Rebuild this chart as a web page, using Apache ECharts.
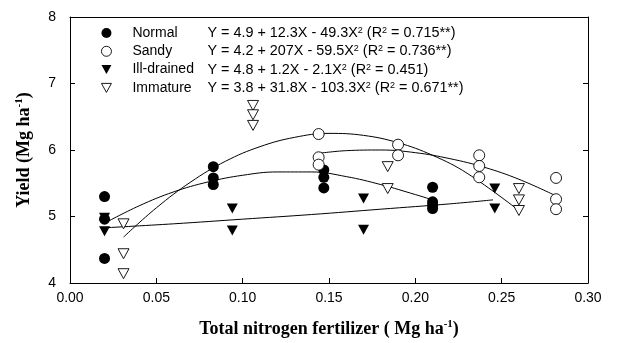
<!DOCTYPE html>
<html>
<head>
<meta charset="utf-8">
<script src="https://cdn.jsdelivr.net/npm/echarts@6/dist/echarts.min.js"></script>
<style>html,body{margin:0;padding:0;background:#fff;}#c{width:617px;height:343px;}</style>
</head>
<body>
<div id="c"></div>
<script>
// ---- data ----
var seriesNames = ['Normal', 'Sandy', 'Ill-drained', 'Immature'];
var equations = [
  ['Y = 4.9 + 12.3X - 49.3X', '0.715**'],
  ['Y = 4.2 + 207X - 59.5X', '0.736**'],
  ['Y = 4.8 + 1.2X - 2.1X', '0.451'],
  ['Y = 3.8 + 31.8X - 103.3X', '0.671**']
];
var xTicks = [0, 0.05, 0.10, 0.15, 0.20, 0.25, 0.30];
var yTicks = [4, 5, 6, 7, 8];

var normalPts = [
  [0.020, 5.30], [0.020, 4.96], [0.020, 4.37],
  [0.083, 5.75], [0.083, 5.58], [0.083, 5.48],
  [0.147, 5.70], [0.147, 5.59], [0.147, 5.43],
  [0.210, 5.44], [0.210, 5.22], [0.210, 5.17], [0.210, 5.12]
];
var sandyPts = [
  [0.144, 6.24], [0.144, 5.89], [0.144, 5.78],
  [0.190, 6.08], [0.190, 5.92],
  [0.237, 5.92], [0.237, 5.76], [0.237, 5.59],
  [0.2815, 5.58], [0.2815, 5.26], [0.2815, 5.11]
];
var illPts = [
  [0.020, 4.98], [0.020, 4.78],
  [0.094, 5.12], [0.094, 4.79],
  [0.170, 5.27], [0.170, 4.80],
  [0.246, 5.42], [0.246, 5.12]
];
var immaturePts = [
  [0.031, 4.89], [0.031, 4.44], [0.031, 4.14],
  [0.106, 6.67], [0.106, 6.53], [0.106, 6.37],
  [0.184, 5.75], [0.184, 5.42],
  [0.260, 5.42], [0.260, 5.25], [0.260, 5.09]
];

var normalCurve = [[0.02,4.90],[0.04,5.16],[0.06,5.37],[0.08,5.52],[0.10,5.62],[0.12,5.67],[0.14,5.67],[0.16,5.60],[0.18,5.48],[0.20,5.33],[0.21,5.25]];
var sandyCurve = [[0.144,5.95],[0.16,5.99],[0.18,6.00],[0.20,5.96],[0.22,5.87],[0.24,5.74],[0.26,5.56],[0.2815,5.31]];
var illCurve = [[0.02,4.83],[0.06,4.89],[0.10,4.96],[0.14,5.03],[0.18,5.11],[0.22,5.19],[0.245,5.25]];
var immatureCurve = [[0.031,4.69],[0.05,5.13],[0.07,5.52],[0.09,5.83],[0.11,6.05],[0.13,6.19],[0.15,6.25],[0.17,6.22],[0.19,6.11],[0.21,5.92],[0.23,5.65],[0.26,5.09]];

// ---- chart ----
var chart = echarts.init(document.getElementById('c'));
var sans = "'Liberation Sans', Arial, sans-serif";
var serif = "'Liberation Serif', 'Times New Roman', serif";
var downTri = 'path://M0,0L10,0L5,9Z';

function curve(data) {
  return {
    type: 'line', data: data, smooth: 0.4, showSymbol: false, symbol: 'none',
    lineStyle: { color: '#000', width: 1 }, silent: true, z: 2,
    xAxisIndex: 0, yAxisIndex: 0
  };
}
function scatter(name, data, symbol, rotate, filled) {
  return {
    type: 'scatter', name: name, data: data, symbol: symbol, symbolRotate: rotate,
    symbolSize: symbol === 'circle' ? 11 : [11, 10],
    itemStyle: { color: filled ? '#000' : '#fff', borderColor: '#000', borderWidth: filled ? 0 : 0.9, opacity: 1 },
    z: 3, xAxisIndex: 0, yAxisIndex: 0
  };
}

var eqMap = {};
seriesNames.forEach(function (n, i) { eqMap[n] = equations[i]; });
var legendIcons = ['circle', 'circle', downTri, downTri];
var legendFilled = [true, false, true, false];

var option = {
  animation: false,
  backgroundColor: '#fff',
  grid: { left: 70, right: 29, top: 17, bottom: 60 },
  xAxis: [{
    type: 'value', min: xTicks[0], max: xTicks[xTicks.length - 1], interval: 0.05,
    axisLine: { lineStyle: { color: '#000', width: 1 } },
    axisTick: { inside: true, length: 5, lineStyle: { color: '#000' } },
    axisLabel: { color: '#000', fontFamily: sans, fontSize: 14, margin: 8,
      formatter: function (v) { return v.toFixed(2); } },
    splitLine: { show: false },
    name: '{t|Total nitrogen fertilizer ( Mg ha}{s|-1}{t|)}',
    nameLocation: 'middle', nameGap: 36,
    nameTextStyle: { rich: {
      t: { fontFamily: serif, fontWeight: 'bold', fontSize: 18, color: '#000', lineHeight: 20 },
      s: { fontFamily: serif, fontWeight: 'bold', fontSize: 11, color: '#000', lineHeight: 11, verticalAlign: 'top' }
    } }
  }, {
    type: 'value', position: 'top', min: 0, max: 0.30,
    axisLine: { show: true, onZero: false, lineStyle: { color: '#000', width: 1 } },
    axisTick: { show: false }, axisLabel: { show: false }, splitLine: { show: false }
  }],
  yAxis: [{
    type: 'value', min: yTicks[0], max: yTicks[yTicks.length - 1], interval: 1,
    axisLine: { show: true, lineStyle: { color: '#000', width: 1 } },
    axisTick: { show: true, inside: true, length: 5, lineStyle: { color: '#000' } },
    axisLabel: { color: '#000', fontFamily: sans, fontSize: 14, margin: 14 },
    splitLine: { show: false },
    name: '{t|Yield (Mg ha}{s|-1}{t|)}',
    nameLocation: 'middle', nameGap: 36, nameRotate: 90,
    nameTextStyle: { rich: {
      t: { fontFamily: serif, fontWeight: 'bold', fontSize: 18, color: '#000', lineHeight: 20 },
      s: { fontFamily: serif, fontWeight: 'bold', fontSize: 11, color: '#000', lineHeight: 11, verticalAlign: 'top' }
    } }
  }, {
    type: 'value', position: 'right', min: 4, max: 8, interval: 1,
    axisLine: { show: true, onZero: false, lineStyle: { color: '#000', width: 1 } },
    axisTick: { show: true, inside: true, length: 5, lineStyle: { color: '#000' } },
    axisLabel: { show: false }, splitLine: { show: false }
  }],
  legend: {
    orient: 'vertical', left: 96, top: 21, itemWidth: 10, itemHeight: 10, itemGap: 4.3,
    data: seriesNames.map(function (n, i) {
      return {
        name: n, icon: legendIcons[i],
        itemStyle: { color: legendFilled[i] ? '#000' : '#fff', borderColor: '#000', borderWidth: legendFilled[i] ? 0 : 0.9 }
      };
    }),
    selectedMode: false,
    formatter: function (name) {
      var e = eqMap[name];
      return '{n|' + name + '}{e|' + e[0] + '}{s|2}{e| (R}{s|2}{e| = ' + e[1] + ')}';
    },
    textStyle: { color: '#000', fontFamily: sans, fontSize: 14,
      rich: {
        n: { fontFamily: sans, fontSize: 14, color: '#000', width: 75, padding: [0, 0, 0, 16], lineHeight: 14 },
        e: { fontFamily: sans, fontSize: 14.4, color: '#000', lineHeight: 14 },
        s: { fontFamily: sans, fontSize: 9, color: '#000', lineHeight: 9, verticalAlign: 'top' }
      }
    }
  },
  series: [
    curve(normalCurve), curve(sandyCurve), curve(illCurve), curve(immatureCurve),
    scatter('Ill-drained', illPts, 'triangle', 180, true),
    scatter('Normal', normalPts, 'circle', 0, true),
    scatter('Sandy', sandyPts, 'circle', 0, false),
    scatter('Immature', immaturePts, 'triangle', 180, false)
  ]
};
chart.setOption(option);
</script>
</body>
</html>
